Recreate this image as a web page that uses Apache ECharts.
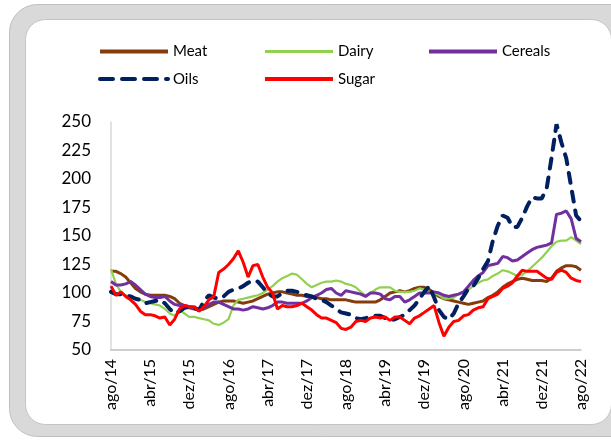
<!DOCTYPE html>
<html>
<head>
<meta charset="utf-8">
<script src="https://cdn.jsdelivr.net/npm/echarts@6/dist/echarts.min.js"></script>
<style>
html,body{margin:0;padding:0;background:#fff;}
#chart{width:611px;height:441px;}
</style>
</head>
<body>
<div id="chart"></div>
<script>
// meses em português, ago/14 .. ago/22
var monthNames = ['jan','fev','mar','abr','mai','jun','jul','ago','set','out','nov','dez'];
var months = [];
for (var i = 0; i < 97; i++) {
    var k = 7 + i;
    months.push(monthNames[k % 12] + '/' + (14 + Math.floor(k / 12)));
}

var meat = [119,119,117,114,109,104,101,99,98,98,
    98,98,97,95,91,89,87,86,85,86,
    88,90,92,93,93,93,92,91,92,93,
    95,97,99,100,101,101,100,99,98,98,
    97,97,96,95,95,94,94,94,94,93,
    92,92,92,92,92,94,97,100,101,102,
    101,102,104,105,105,103,100,97,95,94,
    93,92,91,90,91,92,93,96,98,101,
    105,108,110,112,113,112,111,111,111,110,
    113,119,122,124,124,123,120];

var dairy = [121,108,101,98,96,95,94,92,91,90,
    89,86,82,80,85,82,79,79,78,77,
    76,73,72,74,77,89,94,95,96,97,
    98,100,103,106,110,113,115,117,116,112,
    108,105,107,109,110,110,111,110,108,107,
    105,101,98,100,103,105,105,105,102,101,
    101,101,102,104,103,101,100,98,95,95,
    96,99,101,103,106,109,111,112,115,117,
    120,119,117,115,116,119,123,127,131,136,
    141,145,146,146,149,146,143];

var cereals = [110,107,107,108,110,107,103,99,97,96,
    96,97,93,90,89,89,88,87,86,87,
    90,92,92,90,88,86,86,85,86,88,
    87,86,87,89,92,92,91,91,91,91,
    93,96,98,100,103,104,100,98,102,101,
    100,99,97,100,100,99,95,94,97,97,
    92,94,97,100,100,100,101,100,98,97,
    98,99,101,106,111,115,118,124,125,126,
    132,131,128,129,132,135,138,140,141,142,
    144,169,170,172,165,148,145];

var oils = [101,99,99,98,97,95,94,91,92,93,
    94,91,86,82,84,87,88,87,85,93,
    98,96,95,97,101,103,104,106,109,111,
    110,105,100,97,97,100,102,102,101,99,
    98,97,95,94,92,89,86,83,82,81,
    78,77,78,79,80,80,78,76,77,79,
    81,85,89,95,101,106,96,85,79,77,
    82,91,97,104,106,113,121,128,146,159,
    168,166,158,158,166,176,184,183,183,192,
    219,248,232,218,193,168,163];

var sugar = [106,98,101,97,94,90,84,81,81,80,
    78,79,72,77,86,89,88,88,84,88,
    94,97,118,121,125,130,137,127,114,124,
    125,114,105,100,86,89,88,88,89,91,
    88,85,81,78,78,76,74,69,68,70,
    75,76,75,78,79,78,79,76,79,79,
    76,73,78,80,83,86,89,74,62,70,
    75,76,80,81,85,87,88,95,97,99,
    104,106,109,115,120,119,119,119,116,113,
    112,118,120,118,113,111,110];

var FONT = 'Lato';
var legendText = {fontFamily: FONT, fontSize: 15, color: '#000', lineHeight: 14};
// legenda só com a linha, sem o círculo
var legendBase = {orient: 'vertical', top: 39, itemGap: 12.6, itemWidth: 68, itemHeight: 14,
    itemStyle: {opacity: 0}, textStyle: legendText};

var option = {
    backgroundColor: '#fff',
    animation: false,
    graphic: [
        {type: 'rect', z: -10, silent: true,
            shape: {x: 9.5, y: 4.5, width: 640, height: 432, r: 28},
            style: {fill: '#d9d9d9', stroke: '#bfbfbf', lineWidth: 1}},
        {type: 'rect', z: -9, silent: true,
            shape: {x: 25.5, y: 19.5, width: 586, height: 405, r: 20},
            style: {fill: '#fff', stroke: '#c4c4c4', lineWidth: 1}}
    ],
    legend: [
        echarts.util.merge({left: 93, data: [
            {name: 'Meat', lineStyle: {width: 4}},
            {name: 'Oils', lineStyle: {width: 4, type: [13, 9], cap: 'round'}}
        ]}, legendBase),
        echarts.util.merge({left: 258, data: [
            {name: 'Dairy', lineStyle: {width: 3}},
            {name: 'Sugar', lineStyle: {width: 4}}
        ]}, legendBase),
        echarts.util.merge({left: 422, data: [
            {name: 'Cereals', lineStyle: {width: 4}}
        ]}, legendBase)
    ],
    grid: {left: 111, right: 30, top: 122, bottom: 91},
    xAxis: {
        type: 'category',
        data: months,
        boundaryGap: false,
        axisLine: {lineStyle: {color: '#bfbfbf', width: 1.5}},
        axisTick: {show: false},
        splitLine: {show: false},
        axisLabel: {interval: 7, rotate: 90, margin: 9, fontFamily: FONT, fontSize: 16, color: '#000'}
    },
    yAxis: {
        type: 'value',
        min: 50,
        max: 250,
        interval: 25,
        axisLine: {show: true, lineStyle: {color: '#d9d9d9', width: 1.5}},
        axisTick: {show: false},
        splitLine: {show: false},
        axisLabel: {margin: 20, fontFamily: FONT, fontSize: 17, color: '#000'}
    },
    series: [
        {name: 'Meat', type: 'line', data: meat, symbol: 'none',
            itemStyle: {color: '#843c0c'}, lineStyle: {color: '#843c0c', width: 3}},
        {name: 'Dairy', type: 'line', data: dairy, symbol: 'none',
            itemStyle: {color: '#92d050'}, lineStyle: {color: '#92d050', width: 2.2}},
        {name: 'Cereals', type: 'line', data: cereals, symbol: 'none',
            itemStyle: {color: '#7030a0'}, lineStyle: {color: '#7030a0', width: 3}},
        {name: 'Oils', type: 'line', data: oils, symbol: 'none',
            itemStyle: {color: '#002060'}, lineStyle: {color: '#002060', width: 4, type: [10, 9], cap: 'round'}},
        {name: 'Sugar', type: 'line', data: sugar, symbol: 'none',
            itemStyle: {color: '#ff0000'}, lineStyle: {color: '#ff0000', width: 3}}
    ]
};

var myChart = echarts.init(document.getElementById('chart'));
myChart.setOption(option);
</script>
</body>
</html>
